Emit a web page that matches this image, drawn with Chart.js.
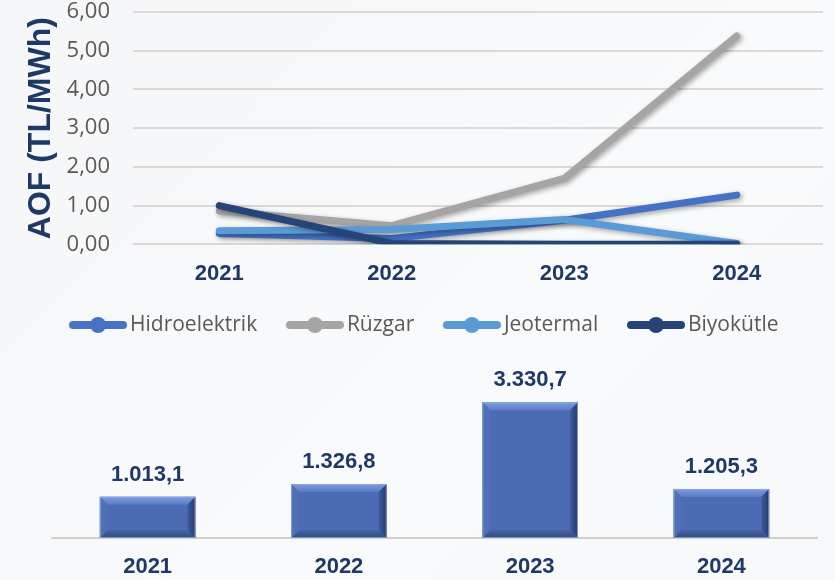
<!DOCTYPE html>
<html><head><meta charset="utf-8">
<script src="https://cdn.jsdelivr.net/npm/chart.js@4.4.1/dist/chart.umd.min.js"></script>
<style>
html,body{margin:0;padding:0;width:835px;height:580px;overflow:hidden;background:linear-gradient(135deg,#f5f6f8 0%,#f9fafb 60%,#f7f8fa 100%);}
#w1{position:absolute;left:0;top:0;width:835px;height:350px;}
#w2{position:absolute;left:0;top:345px;width:835px;height:235px;}
</style></head><body>
<div id="w1"><canvas id="c1"></canvas></div>
<div id="w2"><canvas id="c2"></canvas></div>
<script>
// ---- data ----
const years = ['2021', '2022', '2023', '2024'];
const seriesNames = ['Hidroelektrik', 'Rüzgar', 'Jeotermal', 'Biyokütle'];
const hidroelektrik = [0.28, 0.15, 0.62, 1.27];
const ruzgar = [0.86, 0.48, 1.70, 5.38];
const jeotermal = [0.35, 0.38, 0.64, 0.02];
const biyokutle = [1.00, 0.02, 0.00, 0.00];
const yTicks = [0, 1, 2, 3, 4, 5, 6];
const aofTotals = [1013.1, 1326.8, 3330.7, 1205.3];

// ---- styles ----
const lineColors = ['#4472C4', '#A5A5A5', '#5B9BD5', '#264478'];
const navy = '#1F3864';
const lineSeries = [hidroelektrik, ruzgar, jeotermal, biyokutle];

function fmt2(v){ return v.toFixed(2).replace('.', ','); }
function fmtTR(v){
  const parts = v.toFixed(1).split('.');
  const int = parts[0].replace(/\B(?=(\d{3})+(?!\d))/g, '.');
  return int + ',' + parts[1];
}

// legend marker: line with a dot, drawn in the right part of a wider image
function markerImg(color){
  const c = document.createElement('canvas');
  c.width = 72; c.height = 18;
  const g = c.getContext('2d');
  g.strokeStyle = color; g.lineWidth = 8; g.lineCap = 'round';
  g.beginPath(); g.moveTo(18, 9); g.lineTo(68, 9); g.stroke();
  g.fillStyle = color;
  g.beginPath(); g.arc(43, 9, 8, 0, Math.PI * 2); g.fill();
  return c;
}
const markers = lineColors.map(markerImg);

const shadowPlugin = {
  id: 'lineShadow',
  beforeDatasetDraw(chart){
    const ctx = chart.ctx; ctx.save();
    ctx.shadowColor = 'rgba(0,0,0,0.35)';
    ctx.shadowBlur = 5; ctx.shadowOffsetX = 2; ctx.shadowOffsetY = 2;
  },
  afterDatasetDraw(chart){ chart.ctx.restore(); }
};

new Chart(document.getElementById('c1'), {
  type: 'line',
  data: {
    labels: years,
    datasets: seriesNames.map((n, i) => ({
      label: n, data: lineSeries[i],
      borderColor: lineColors[i], backgroundColor: lineColors[i],
      borderWidth: 7, pointRadius: 0, pointHoverRadius: 0, tension: 0,
      borderCapStyle: 'round', borderJoinStyle: 'round',
      order: 4 - i
    }))
  },
  options: {
    responsive: true, maintainAspectRatio: false, animation: false,
    layout: { padding: { left: 18, right: 12, top: 0, bottom: 4.5 } },
    plugins: {
      tooltip: { enabled: false },
      legend: {
        position: 'bottom',
        labels: {
          usePointStyle: true, pointStyleWidth: 57, boxHeight: 18,
          font: { family: 'Open Sans', size: 21 }, color: '#595959', padding: 22.2,
          generateLabels: (chart) => chart.data.datasets.map((d, i) => ({
            text: d.label, fillStyle: d.borderColor, strokeStyle: d.borderColor,
            lineWidth: 0, pointStyle: markers[i], datasetIndex: i, hidden: false,
            fontColor: '#595959'
          }))
        }
      }
    },
    scales: {
      x: {
        offset: true,
        grid: { display: false, drawTicks: false },
        border: { display: false },
        afterFit: (s) => { s.height = 48; },
        ticks: { color: navy, font: { family: 'Liberation Sans', size: 22, weight: 'bold' }, padding: 16 }
      },
      y: {
        min: 0, max: 6,
        afterBuildTicks: (s) => { s.ticks = yTicks.map(v => ({ value: v })); },
        afterFit: (s) => { s.width = 115; s.paddingTop = 12; s.paddingBottom = 0; },
        grid: { color: '#D9D9D9', lineWidth: 2, drawTicks: false },
        border: { display: false },
        ticks: { color: '#595959', font: { family: 'Open Sans', size: 22 }, padding: 23, callback: (v) => fmt2(v) },
        title: { display: true, text: 'AOF (TL/MWh)', color: navy, font: { family: 'Liberation Sans', size: 32, weight: 'bold' }, padding: { top: 4, bottom: 0 } }
      }
    }
  },
  plugins: [shadowPlugin]
});

const bevelPlugin = {
  id: 'bevel',
  afterDatasetsDraw(chart){
    const ctx = chart.ctx;
    const meta = chart.getDatasetMeta(0);
    meta.data.forEach((bar, i) => {
      const w = bar.width, x0 = bar.x - w / 2, x1 = bar.x + w / 2, y0 = bar.y, y1 = bar.base;
      const b = 8;
      ctx.save();
      let g = ctx.createLinearGradient(0, y0, 0, y0 + b);
      g.addColorStop(0, '#7d9be0'); g.addColorStop(1, '#5a7bc6');
      ctx.fillStyle = g;
      ctx.beginPath(); ctx.moveTo(x0, y0); ctx.lineTo(x1, y0); ctx.lineTo(x1 - b, y0 + b); ctx.lineTo(x0 + b, y0 + b); ctx.closePath(); ctx.fill();
      g = ctx.createLinearGradient(x1 - b, 0, x1, 0);
      g.addColorStop(0, '#3f5c9e'); g.addColorStop(1, '#24386a');
      ctx.fillStyle = g;
      ctx.beginPath(); ctx.moveTo(x1, y0); ctx.lineTo(x1, y1); ctx.lineTo(x1 - b, y1 - b); ctx.lineTo(x1 - b, y0 + b); ctx.closePath(); ctx.fill();
      g = ctx.createLinearGradient(0, y1 - b, 0, y1);
      g.addColorStop(0, '#46659f'); g.addColorStop(1, '#2f4a86');
      ctx.fillStyle = g;
      ctx.beginPath(); ctx.moveTo(x0, y1); ctx.lineTo(x1, y1); ctx.lineTo(x1 - b, y1 - b); ctx.lineTo(x0 + b, y1 - b); ctx.closePath(); ctx.fill();
      g = ctx.createLinearGradient(x0, 0, x0 + b, 0);
      g.addColorStop(0, '#5373b8'); g.addColorStop(1, '#4d6db4');
      ctx.fillStyle = g;
      ctx.beginPath(); ctx.moveTo(x0, y0); ctx.lineTo(x0 + b, y0 + b); ctx.lineTo(x0 + b, y1 - b); ctx.lineTo(x0, y1); ctx.closePath(); ctx.fill();
      ctx.strokeStyle = 'rgba(150,170,210,0.8)'; ctx.lineWidth = 1;
      ctx.strokeRect(x0 + 0.5, y0 + 0.5, w - 1, y1 - y0 - 1);
      ctx.fillStyle = navy;
      ctx.font = 'bold 22px "Liberation Sans"';
      ctx.textAlign = 'center'; ctx.textBaseline = 'alphabetic';
      ctx.fillText(fmtTR(aofTotals[i]), bar.x, y0 - 16);
      ctx.restore();
    });
  }
};

new Chart(document.getElementById('c2'), {
  type: 'bar',
  data: {
    labels: years,
    datasets: [{ label: 'AOF', data: aofTotals, backgroundColor: '#4B6CB5', borderWidth: 0,
      categoryPercentage: 1, barPercentage: 0.5 }]
  },
  options: {
    responsive: true, maintainAspectRatio: false, animation: false,
    layout: { padding: { left: 52, right: 18, top: 26, bottom: 0 } },
    plugins: { legend: { display: false }, tooltip: { enabled: false } },
    scales: {
      x: {
        grid: { display: false, drawTicks: false },
        border: { display: true, color: '#D0D0D0', width: 2 },
        afterFit: (s) => { s.height = 42; },
        ticks: { color: navy, font: { family: 'Liberation Sans', size: 22, weight: 'bold' }, padding: 16 }
      },
      y: { display: false, min: 0, max: 4100 }
    }
  },
  plugins: [bevelPlugin]
});
</script>
</body></html>
